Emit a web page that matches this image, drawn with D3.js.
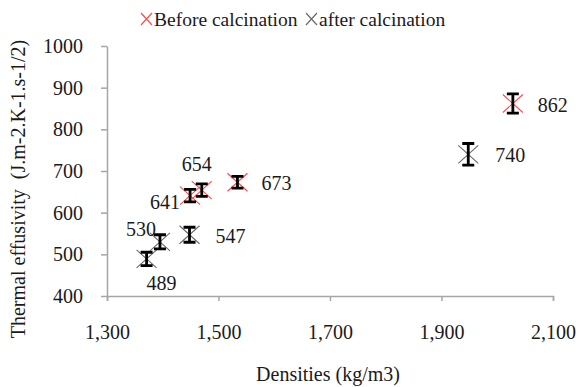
<!doctype html>
<html lang="en">
<head>
    <meta charset="utf-8" />
    <title>Thermal effusivity vs densities</title>
    <script src="https://d3js.org/d3.v7.min.js"></script>
    <style>
        body { margin: 0; background: #fff; }
        svg text { font-family: "Liberation Serif", "Times New Roman", serif; fill: #1a1a1a; }
    </style>
</head>
<body>

<svg></svg>

<script>
// data
let beforeDensity = [1449, 1470, 1534, 2028]
let beforeEffusivity = [641, 654, 673, 862]
let beforeError = [15, 15, 14, 23]

let afterDensity = [1371, 1395, 1448, 1948]
let afterEffusivity = [489, 530, 547, 740]
let afterError = [16, 17, 18, 26]

let xTicks = [1300, 1500, 1700, 1900, 2100]
let yTicks = [400, 500, 600, 700, 800, 900, 1000]

// where each value label sits relative to its point
let beforeLabelOffset = [[-40, 6], [-20, -26], [24, 1], [25, 1]]
let afterLabelOffset = [[0, 24], [-34, -13], [26, 1], [27, 1]]

let width = 579,
    height = 387,
    fontSize = 20;

let svg = d3.select("svg")
    .attr("width", width)
    .attr("height", height);

let x = d3.scaleLinear().domain([1300, 2100]).range([107, 553])
let y = d3.scaleLinear().domain([400, 1000]).range([296, 46])

let axisColor = "#a6a6a6"

// x axis
let xAxis = svg.append("g")
    .attr("transform", "translate(0,296)")
    .call(d3.axisBottom(x).tickValues(xTicks).tickSize(5).tickPadding(24)
        .tickFormat(d3.format(",")))
xAxis.attr("font-family", null)
xAxis.select(".domain").attr("stroke", axisColor).attr("stroke-width", 1.5)
xAxis.selectAll(".tick line").attr("stroke", axisColor).attr("stroke-width", 1.5)
xAxis.selectAll(".tick text").attr("font-size", fontSize).attr("fill", "#1a1a1a")

// y axis
let yAxis = svg.append("g")
    .attr("transform", "translate(107,0)")
    .call(d3.axisLeft(y).tickValues(yTicks).tickSize(6).tickPadding(18)
        .tickSizeOuter(0).tickFormat(d3.format("d")))
yAxis.attr("font-family", null)
yAxis.select(".domain").attr("stroke", axisColor).attr("stroke-width", 1.5)
yAxis.selectAll(".tick line").attr("stroke", axisColor).attr("stroke-width", 1.5)
yAxis.selectAll(".tick text").attr("font-size", fontSize).attr("fill", "#1a1a1a")

// axis titles
svg.append("text")
    .attr("x", 328)
    .attr("y", 381)
    .attr("text-anchor", "middle")
    .attr("font-size", fontSize)
    .text("Densities (kg/m3)")

svg.append("text")
    .attr("transform", "translate(25,189) rotate(-90)")
    .attr("text-anchor", "middle")
    .attr("font-size", fontSize)
    .attr("xml:space", "preserve")
    .text("Thermal effusivity  (J.m-2.K-1.s-1/2)")

function drawSeries(dens, eff, err, offsets, color) {
    let g = svg.append("g")
    let pts = dens.map((d, i) => ({ d: d, e: eff[i], err: err[i], off: offsets[i] }))

    // cross markers
    g.selectAll("path.marker")
        .data(pts)
        .enter()
        .append("path")
            .attr("class", "marker")
            .attr("d", p => {
                let cx = x(p.d), cy = y(p.e), sx = 10, sy = 9
                return `M${cx - sx},${cy - sy}L${cx + sx},${cy + sy}M${cx - sx},${cy + sy}L${cx + sx},${cy - sy}`
            })
            .attr("stroke", color)
            .attr("stroke-width", 1.1)
            .attr("fill", "none")

    // error bars
    g.selectAll("path.err")
        .data(pts)
        .enter()
        .append("path")
            .attr("class", "err")
            .attr("d", p => {
                let cx = x(p.d), y0 = y(p.e - p.err), y1 = y(p.e + p.err), w = 6
                return `M${cx},${y0}L${cx},${y1}M${cx - w},${y0}L${cx + w},${y0}M${cx - w},${y1}L${cx + w},${y1}`
            })
            .attr("stroke", "#000")
            .attr("stroke-width", 2.8)
            .attr("fill", "none")

    // value labels
    g.selectAll("text")
        .data(pts)
        .enter()
        .append("text")
            .attr("x", p => x(p.d) + p.off[0])
            .attr("y", p => y(p.e) + p.off[1] + 7)
            .attr("font-size", fontSize)
            .text(p => p.e)
}

drawSeries(afterDensity, afterEffusivity, afterError, afterLabelOffset, "#6a6a6a")
drawSeries(beforeDensity, beforeEffusivity, beforeError, beforeLabelOffset, "#ff4a4a")

// legend
let legend = svg.append("g")
let legendItems = [
    { label: "Before calcination", color: "#ff4a4a", x: 141 },
    { label: "after calcination", color: "#6a6a6a", x: 306 }
]
legendItems.forEach(it => {
    legend.append("path")
        .attr("d", `M${it.x},${13}L${it.x + 11},${25}M${it.x},${25}L${it.x + 11},${13}`)
        .attr("stroke", it.color)
        .attr("stroke-width", 1.2)
    legend.append("text")
        .attr("x", it.x + 13)
        .attr("y", 26)
        .attr("font-size", 19.5)
        .text(it.label)
})
</script>

</body>
</html>
